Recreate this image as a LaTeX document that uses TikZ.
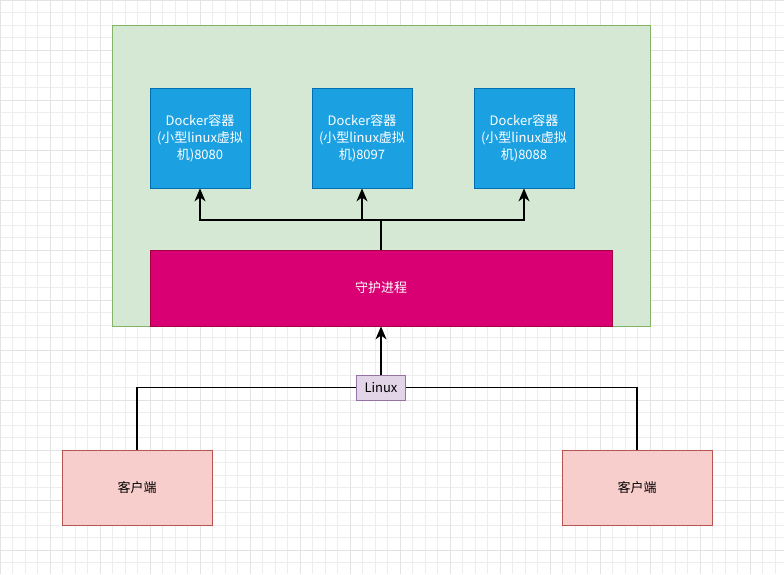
\documentclass[tikz,border=0pt]{standalone}
\usepackage{fontspec}
\setmainfont{Liberation Sans}
\newfontfamily\cjk{Noto Sans CJK SC}
\usetikzlibrary{arrows.meta}
\definecolor{gfill}{HTML}{D5E8D4}\definecolor{gline}{HTML}{82B366}
\definecolor{bfill}{HTML}{1BA1E2}\definecolor{bline}{HTML}{006EAF}
\definecolor{mfill}{HTML}{D80073}\definecolor{mline}{HTML}{A50040}
\definecolor{pfill}{HTML}{E1D5E7}\definecolor{pline}{HTML}{9673A6}
\definecolor{rfill}{HTML}{F8CECC}\definecolor{rline}{HTML}{B85450}
\begin{document}
\begin{tikzpicture}[x=1pt,y=-1pt,
  box/.style={draw,line width=0.8pt,font=\fontsize{13}{17}\selectfont\cjk,align=center,inner sep=0pt},
  dock/.style={box,fill=bfill,draw=bline,text=white,minimum width=100pt,minimum height=100pt,text width=98pt},
  cli/.style={box,fill=rfill,draw=rline,minimum width=150pt,minimum height=75pt},
  conn/.style={line width=1.2pt},
  arr/.style={conn,-{Stealth[length=13pt,width=11pt,inset=4pt]}}]
\useasboundingbox (0,0) rectangle (784,574);
\fill[white] (0,0) rectangle (784,574);
\draw[black!7,line width=0.5pt,step=12.5pt] (0,0) grid (784,574);
\draw[black!11,line width=0.5pt,step=50pt] (0,0) grid (784,574);
\node[box,fill=gfill,draw=gline,minimum width=538pt,minimum height=301pt] (host) at (381,175.5) {};
\node[dock] (d1) at (200,138) {Docker容器\\(小型linux虚拟\\机)8080};
\node[dock] (d2) at (362,138) {Docker容器\\(小型linux虚拟\\机)8097};
\node[dock] (d3) at (524,138) {Docker容器\\(小型linux虚拟\\机)8088};
\node[box,fill=mfill,draw=mline,text=white,minimum width=462pt,minimum height=76pt] (dm) at (381,288) {守护进程};
\node[box,fill=pfill,draw=pline,minimum width=49pt,minimum height=25pt] (lx) at (381,387.5) {Linux};
\node[cli] (c1) at (137,487.5) {客户端};
\node[cli] (c2) at (637,487.5) {客户端};
\coordinate (j) at (381,220);
\draw[conn] (dm.north) -- (j);
\draw[arr] (j) -| (d1.south);
\draw[arr] (j) -| (d2.south);
\draw[arr] (j) -| (d3.south);
\draw[arr] (lx.north) -- (dm.south);
\draw[conn] (lx.west) -| (c1.north);
\draw[conn] (lx.east) -| (c2.north);
\end{tikzpicture}
\end{document}
